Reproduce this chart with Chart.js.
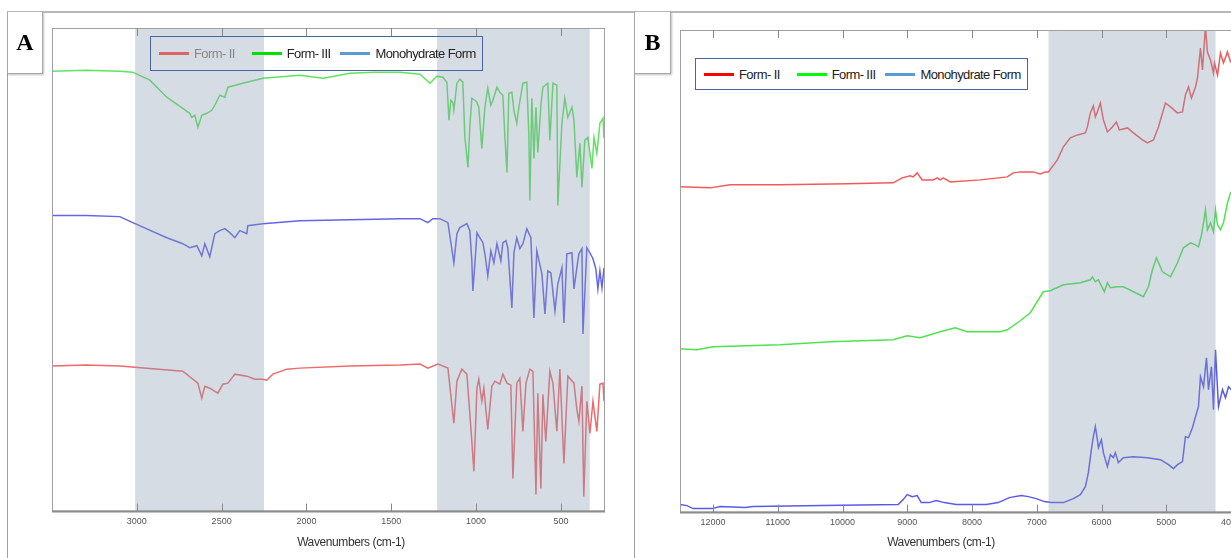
<!DOCTYPE html>
<html>
<head>
<meta charset="utf-8">
<script src="https://cdn.jsdelivr.net/npm/chart.js@4.4.0/dist/chart.umd.min.js"></script>
<style>
  body { margin: 0; width: 1231px; height: 558px; overflow: hidden; background: #fff; position: relative; }
  canvas { position: absolute; top: 0; }
  .rule-h { position: absolute; left: 7px; top: 11px; width: 1224px; height: 2px; background: #b8b8b8; }
  .rule-v { position: absolute; top: 12px; width: 1px; height: 546px; background: #a0a0a0; }
  .tag { position: absolute; top: 12px; height: 61px; border: 1px solid #a8a8a8; border-top: none;
         box-shadow: 1px 1px 2px rgba(0,0,0,.25); background: #fff;
         font: bold 24px "Liberation Serif", "Times New Roman", serif;
         display: flex; align-items: center; justify-content: center; }
  .legend { position: absolute; border: 1px solid #4a64a0; box-sizing: border-box; padding-left: 8px;
            display: flex; align-items: center; white-space: nowrap;
            font: 13px "Liberation Sans", Arial, sans-serif; letter-spacing: -0.6px; color: #222; }
  .legend .sw { width: 30px; height: 3px; margin-right: 5px; flex: none; }
  .axis-title { position: absolute; top: 535px; width: 140px; text-align: center; white-space: nowrap;
                font: 12px "Liberation Sans", Arial, sans-serif; letter-spacing: -0.4px; color: #333; }
</style>
</head>
<body>
<canvas id="chartA" width="634" height="558" style="left:0"></canvas>
<canvas id="chartB" width="633" height="558" style="left:634px"></canvas>

<div class="rule-h"></div>
<div class="rule-v" style="left:7px"></div>
<div class="rule-v" style="left:634px"></div>
<div class="tag" style="left:7px;width:34px">A</div>
<div class="tag" style="left:634px;width:35px">B</div>

<div class="legend" style="left:150px;top:36px;width:333px;height:35px">
  <div class="sw" style="background:#dc6464"></div><span style="color:#888;margin-right:17px">Form- II</span>
  <div class="sw" style="background:#00e000"></div><span style="margin-right:10px">Form- III</span>
  <div class="sw" style="background:#5b9bd5"></div><span>Monohydrate Form</span>
</div>
<div class="legend" style="left:695px;top:58px;width:333px;height:32px;background:#fff">
  <div class="sw" style="background:#ff0000"></div><span style="margin-right:17px">Form- II</span>
  <div class="sw" style="background:#00ff00"></div><span style="margin-right:10px">Form- III</span>
  <div class="sw" style="background:#5b9bd5"></div><span>Monohydrate Form</span>
</div>

<div class="axis-title" style="left:281px">Wavenumbers (cm-1)</div>
<div class="axis-title" style="left:871px">Wavenumbers (cm-1)</div>

<script>
// Panel A: mid-IR spectra (wavenumber, offset transmittance)
const ticksA = [3000, 2500, 2000, 1500, 1000, 500];
const bandsA = [[3010, 2250], [1230, 330]];

const wnA_green = [3500,3300,3100,3024,2923,2823,2729,2688,2676,2658,2640,2617,2587,2558,2540,2511,2481,2463,2375,2257,2039,1900,1744,1600,1449,1331,1272,1231,1196,1172,1160,1149,1137,1131,1113,1096,1078,1066,1048,1037,1025,1007,995,984,966,948,931,913,901,877,860,842,830,818,807,789,777,760,748,724,701,689,683,671,659,647,636,618,606,577,565,547,524,518,494,477,459,435,423,406,388,376,359,341,317,305,288,270,252,246];
const valA_green = [43.9,44.0,43.9,43.8,43.0,41.3,40.2,39.7,39.3,39.5,38.3,39.5,39.7,40.0,40.5,41.5,41.3,42.3,42.7,43.2,43.5,43.2,43.7,43.8,43.8,43.6,42.7,43.4,43.3,42.8,39.0,41.0,40.8,40.0,42.7,43.1,42.8,37.3,34.3,38.3,41.2,41.0,40.8,40.3,36.2,40.3,42.2,40.5,41.0,42.3,41.8,41.5,37.3,33.8,41.7,41.8,40.0,38.7,40.3,42.7,42.8,37.7,31.0,41.2,35.2,40.3,35.8,40.5,42.3,42.7,37.0,42.7,42.5,30.5,38.7,41.2,39.3,40.3,39.0,33.3,36.7,32.3,37.0,37.3,34.2,37.3,35.7,38.7,39.2,37.2];

const wnA_blue = [3500,3300,3100,3024,2823,2729,2688,2646,2617,2599,2570,2540,2511,2481,2452,2422,2393,2351,2346,2257,2039,1744,1449,1331,1284,1255,1214,1166,1131,1113,1096,1054,1037,1025,1019,1007,995,978,960,948,931,913,895,877,854,842,824,813,789,777,760,742,724,701,677,659,642,612,594,577,559,535,518,494,482,465,435,423,406,394,376,370,347,329,311,294,282,270,258,246];
const valA_blue = [29.5,29.5,29.4,28.8,27.3,26.7,26.3,26.5,25.5,26.7,25.4,27.7,28.0,28.2,27.8,27.3,28.0,27.7,28.5,28.7,29.0,29.1,29.2,29.2,28.8,29.2,29.2,28.8,24.8,27.7,28.3,28.7,28.0,25.0,22.0,24.7,27.8,27.3,26.8,25.7,23.5,26.0,24.8,26.7,25.0,26.8,27.0,26.3,20.3,25.8,27.3,26.2,26.7,28.2,27.3,19.3,26.0,23.7,19.7,24.0,23.8,20.0,22.7,24.3,18.8,25.7,25.8,22.2,24.3,25.7,26.2,17.7,26.3,25.8,25.2,24.2,22.2,24.0,22.3,24.3];

const wnA_red = [3500,3300,3100,2729,2640,2617,2599,2570,2522,2493,2463,2422,2351,2304,2257,2234,2198,2116,2039,1744,1449,1331,1284,1225,1166,1131,1113,1084,1054,1025,1013,995,984,966,954,931,907,889,860,842,818,795,783,760,742,724,706,683,665,647,636,618,606,589,565,547,524,506,482,459,423,406,394,376,365,347,329,311,288,270,252,246];
const valA_red = [14.5,14.6,14.5,14.0,12.8,11.3,12.5,12.3,11.8,12.7,12.8,13.7,13.5,13.2,13.2,13.1,13.7,14.2,14.3,14.5,14.6,14.7,14.3,14.7,14.3,8.8,13.0,14.2,13.7,7.0,4.0,12.3,13.2,11.0,12.3,8.2,12.5,13.0,12.7,13.7,12.8,12.6,3.3,12.8,13.3,8.0,12.8,14.2,14.0,1.7,11.8,2.3,11.7,7.0,14.0,12.8,8.0,14.2,4.8,13.5,12.8,10.2,9.0,12.5,1.5,11.0,7.8,11.0,8.0,12.7,12.8,11.0];

// Panel B: near-IR spectra
const ticksB = [12000, 11000, 10000, 9000, 8000, 7000, 6000, 5000, 4000];
const bandsB = [[6820, 4240]];

const wnB_red = [12510,12046,11737,10964,9929,9218,9079,8955,8909,8847,8770,8600,8538,8491,8445,8337,7873,7456,7363,7255,7054,6946,6869,6822,6683,6590,6482,6374,6250,6219,6173,6127,6096,6065,6019,5972,5910,5833,5772,5725,5601,5508,5369,5292,5199,5122,5014,4936,4828,4751,4705,4658,4612,4550,4519,4473,4442,4396,4365,4318,4272,4257,4210,4164,4118,4056,4009,3900];
const valB_red = [32.6,32.5,32.8,32.8,32.9,33.0,33.5,33.7,33.6,34.0,33.3,33.3,33.5,33.3,33.5,33.1,33.3,33.6,34.0,34.1,34.1,33.9,34.1,34.1,35.3,36.6,37.5,37.8,38.0,38.6,40.0,40.7,39.6,40.1,41.0,39.3,38.1,38.6,39.1,38.3,38.5,38.0,37.3,37.0,37.3,38.6,41.0,40.6,40.0,40.1,41.8,42.6,41.5,42.6,43.5,46.5,44.3,48.6,46.1,45.3,44.0,45.0,43.8,46.0,45.0,46.1,45.1,45.5];

const wnB_green = [12510,12247,12000,10964,10192,9218,9002,8801,8491,8260,8074,7564,7456,7255,7100,6900,6791,6590,6328,6173,6142,6096,6049,5957,5910,5864,5756,5663,5508,5354,5277,5215,5153,5060,4936,4828,4736,4627,4550,4504,4457,4426,4396,4365,4318,4272,4241,4210,4164,4118,4056,4009,3900];
const valB_green = [16.4,16.3,16.6,16.8,17.1,17.3,17.7,17.5,18.1,18.5,18.1,18.1,18.3,19.2,20.0,22.1,22.2,22.8,23.0,23.3,23.6,23.1,23.3,22.1,23.0,22.5,22.6,22.6,22.1,21.6,22.6,24.3,25.5,24.1,23.6,25.0,26.5,27.0,26.8,26.6,27.8,29.0,30.3,28.3,29.0,28.1,30.3,28.8,28.3,29.0,31.0,32.0,32.8];

const wnB_blue = [12510,12402,12309,12015,11892,11505,11382,10315,9141,9063,9002,8924,8847,8785,8662,8553,8430,8244,7781,7595,7425,7240,7131,7008,6884,6776,6590,6436,6328,6250,6204,6158,6127,6096,6065,6049,6003,5972,5910,5864,5818,5787,5741,5663,5508,5292,5091,4967,4890,4828,4751,4705,4658,4597,4550,4504,4473,4426,4380,4349,4303,4272,4241,4195,4133,4087,4040,3994,3900];
const valB_blue = [0.8,0.7,0.4,0.4,0.6,0.5,0.6,0.7,0.8,1.3,1.8,1.6,1.7,1.0,1.0,1.2,1.0,0.8,0.8,1.0,1.5,1.7,1.6,1.4,1.1,1.0,1.0,1.4,1.8,2.6,4.0,6.3,7.6,8.6,7.3,6.5,7.3,6.0,4.6,5.8,5.5,6.0,5.0,5.5,5.6,5.5,5.3,4.8,4.4,4.8,5.1,7.6,7.5,8.5,9.6,10.6,13.6,12.6,15.5,12.3,14.6,10.3,16.3,10.6,12.3,11.5,12.6,12.3,12.8];

Chart.defaults.font.family = '"Liberation Sans", Arial, sans-serif';

// shaded bands, frame and inward tick marks
function framePlugin(opts) {
    return {
        id: 'frame',
        afterDatasetsDraw(chart) {
            const { ctx, chartArea: a, scales: { x } } = chart;
            ctx.save();
            ctx.fillStyle = 'rgba(138,155,178,0.35)';
            opts.bands.forEach(([from, to]) => {
                const x1 = x.getPixelForValue(from), x2 = x.getPixelForValue(to);
                ctx.fillRect(Math.min(x1, x2), a.top, Math.abs(x2 - x1), a.bottom - a.top);
            });
            ctx.strokeStyle = '#a0a0a0';
            ctx.lineWidth = 1;
            ctx.strokeRect(a.left + 0.5, a.top + 0.5, a.right - a.left - 1, a.bottom - a.top - 1);
            ctx.strokeStyle = '#8a8a8a';
            ctx.lineWidth = 2;
            ctx.beginPath();
            ctx.moveTo(a.left, a.bottom);
            ctx.lineTo(a.right, a.bottom);
            ctx.stroke();
            ctx.lineWidth = 1;
            ctx.strokeStyle = '#888';
            opts.ticks.forEach(v => {
                const px = Math.round(x.getPixelForValue(v)) + 0.5;
                ctx.beginPath();
                ctx.moveTo(px, a.bottom); ctx.lineTo(px, a.bottom - 8);
                ctx.moveTo(px, a.top); ctx.lineTo(px, a.top + 8);
                ctx.stroke();
            });
            ctx.restore();
        }
    };
}

function spectrum(id, opts) {
    new Chart(document.getElementById(id), {
        type: 'line',
        data: {
            datasets: opts.series.map(s => ({
                data: s.wn.map((w, i) => ({ x: w, y: s.val[i] })),
                borderColor: s.color,
                borderWidth: 1.5,
                pointRadius: 0,
                tension: 0,
                fill: false
            }))
        },
        options: {
            responsive: false,
            animation: false,
            events: [],
            layout: { padding: opts.padding },
            plugins: { legend: { display: false }, tooltip: { enabled: false } },
            scales: {
                x: {
                    type: 'linear',
                    reverse: true,
                    min: opts.xMin,
                    max: opts.xMax,
                    afterBuildTicks: s => { s.ticks = opts.ticks.map(v => ({ value: v })); },
                    grid: { display: false, drawTicks: false },
                    border: { display: false },
                    ticks: { font: { size: 9 }, color: '#555', padding: 5, maxRotation: 0, callback: v => String(v) }
                },
                y: { display: false, min: 0, max: opts.yMax }
            }
        },
        plugins: [framePlugin(opts)]
    });
}

spectrum('chartA', {
    xMin: 240, xMax: 3500, yMax: 48.2,
    ticks: ticksA, bands: bandsA,
    padding: { left: 52, right: 29, top: 28, bottom: 25.6 },
    series: [
        { wn: wnA_red, val: valA_red, color: '#ee6a6a' },
        { wn: wnA_green, val: valA_green, color: '#5ee45e' },
        { wn: wnA_blue, val: valA_blue, color: '#6464e8' }
    ]
});

spectrum('chartB', {
    xMin: 3600, xMax: 12510, yMax: 48.3,
    ticks: ticksB, bands: bandsB,
    padding: { left: 46, right: 10, top: 30, bottom: 24.6 },
    series: [
        { wn: wnB_red, val: valB_red, color: '#f25a5a' },
        { wn: wnB_green, val: valB_green, color: '#4ee44e' },
        { wn: wnB_blue, val: valB_blue, color: '#5a5aea' }
    ]
});
</script>
</body>
</html>
